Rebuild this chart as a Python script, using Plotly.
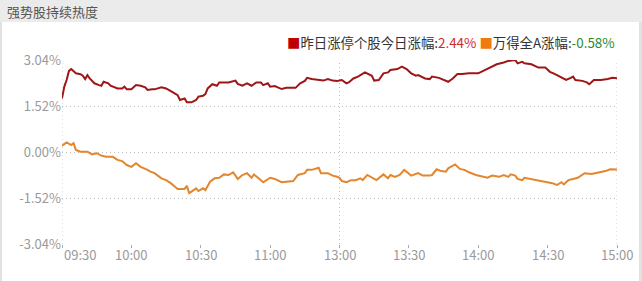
import plotly.graph_objects as go

# ---- data (trading minutes since 09:30, % change) ----
red_min = [0,1,2,3,4,6,8,9,10,11,12,14,16,17,18,20,21,24,26,27,28,30,32,34,36,37,39,40,43,45,48,50,51,53,54,56,58,59,61,62,63,65,67,68,72,75,76,78,80,82,84,86,87,89,90,92,95,97,101,103,105,106,108,111,113,115,117,119,121,123,124,126,128,131,134,135,137,139,141,142,145,147,149,151,153,154,157,159,160,163,165,167,169,171,173,176,180,182,184,186,188,191,193,196,197,199,200,203,206,209,211,213,216,218,220,221,222,225,227,228,230,233,236,238,240]
red_val = [1.77,2.16,2.38,2.68,2.74,2.60,2.57,2.52,2.41,2.54,2.43,2.27,2.21,2.19,2.32,2.27,2.19,2.10,2.10,2.16,2.07,2.07,2.21,2.19,2.14,2.05,2.07,2.07,2.14,2.10,1.97,1.88,1.72,1.77,1.64,1.64,1.72,1.83,1.86,1.91,2.10,2.24,2.19,2.30,2.30,2.36,2.25,2.19,2.27,2.19,2.30,2.30,2.21,2.27,2.16,2.18,2.08,2.12,2.12,2.27,2.35,2.45,2.41,2.38,2.36,2.41,2.36,2.35,2.38,2.27,2.30,2.43,2.49,2.63,2.52,2.36,2.38,2.60,2.63,2.71,2.74,2.82,2.74,2.60,2.52,2.54,2.43,2.41,2.49,2.45,2.38,2.32,2.43,2.58,2.58,2.60,2.60,2.68,2.74,2.82,2.90,2.96,3.01,3.04,2.93,2.98,2.93,2.90,2.79,2.79,2.65,2.58,2.45,2.38,2.45,2.49,2.38,2.35,2.30,2.24,2.38,2.38,2.41,2.45,2.44]

org_min = [0,2,4,5,6,8,11,13,15,17,19,22,24,26,28,30,32,34,37,38,40,43,45,47,50,53,54,55,56,58,59,61,62,64,66,68,70,72,74,76,78,80,82,83,85,87,90,92,95,98,100,102,105,106,108,111,112,115,117,119,120,121,123,125,127,129,130,132,134,136,139,141,142,144,146,148,149,151,154,156,159,160,162,164,166,167,170,172,174,176,179,182,184,186,189,191,193,194,196,197,199,200,203,205,208,210,212,214,216,217,219,221,223,226,229,232,235,237,240]
org_val = [0.21,0.32,0.23,0.29,0.07,0.01,0.01,-0.08,-0.04,-0.12,-0.16,-0.16,-0.26,-0.30,-0.43,-0.49,-0.37,-0.49,-0.59,-0.64,-0.70,-0.87,-0.93,-1.03,-1.22,-1.22,-1.12,-1.36,-1.31,-1.20,-1.29,-1.20,-1.26,-0.98,-0.87,-0.85,-0.74,-0.76,-0.67,-0.89,-0.76,-0.70,-0.85,-0.74,-0.87,-1.00,-0.85,-0.89,-1.00,-0.98,-0.96,-0.76,-0.70,-0.59,-0.59,-0.52,-0.70,-0.70,-0.78,-0.82,-0.85,-0.96,-1.00,-0.93,-0.93,-0.87,-0.93,-0.76,-0.85,-0.93,-0.74,-0.87,-0.76,-0.82,-0.76,-0.59,-0.65,-0.78,-0.70,-0.78,-0.78,-0.76,-0.57,-0.63,-0.65,-0.54,-0.41,-0.56,-0.59,-0.67,-0.76,-0.82,-0.85,-0.78,-0.82,-0.76,-0.82,-0.74,-0.78,-0.89,-0.93,-0.85,-0.89,-0.93,-0.96,-0.98,-1.03,-1.09,-1.00,-1.07,-0.93,-0.89,-0.85,-0.70,-0.73,-0.68,-0.63,-0.57,-0.58]

x_tick_pos = [0, 30, 60, 90, 120, 150, 180, 210, 240]
x_tick_labels = ['09:30', '10:00', '10:30', '11:00', '13:00', '13:30', '14:00', '14:30', '15:00']
y_tick_vals = [-3.04, -1.52, 0.0, 1.52, 3.04]
y_tick_labels = ['-3.04%', '-1.52%', '0.00%', '1.52%', '3.04%']

title_text = '强势股持续热度'
red_name = '昨日涨停个股今日涨幅:'
red_last = '2.44%'
org_name = '万得全A涨幅:'
org_last = '-0.58%'

assert len(red_min) == len(red_val)
assert len(org_min) == len(org_val)

# ---- layout geometry ----
W, H = 642, 281
L, R, T, B = 62, 25, 60, 37
PW, PH = W - L - R, H - T - B
def px(x):
    return (x - L) / PW
def py(y):
    return (H - B - y) / PH

FONT = 'Noto Sans CJK SC, Noto Sans, sans-serif'
RED_LINE = '#9e1616'
ORG_LINE = '#e3862c'
GRID = '#bdbdbd'
DOT = '1px,3px'

fig = go.Figure()
fig.add_trace(go.Scatter(x=red_min, y=red_val, mode='lines',
                         line=dict(color=RED_LINE, width=2), hoverinfo='skip'))
fig.add_trace(go.Scatter(x=org_min, y=org_val, mode='lines',
                         line=dict(color=ORG_LINE, width=2), hoverinfo='skip'))

shapes = [
    # title bar
    dict(type='rect', xref='paper', yref='paper', x0=px(0), x1=px(W), y0=py(22), y1=py(0),
         fillcolor='#ebebeb', line=dict(width=0), layer='below'),
    # side borders
    dict(type='rect', xref='paper', yref='paper', x0=px(0), x1=px(2), y0=py(H), y1=py(22),
         fillcolor='#e2e2e2', line=dict(width=0), layer='below'),
    dict(type='rect', xref='paper', yref='paper', x0=px(639), x1=px(W), y0=py(H), y1=py(22),
         fillcolor='#e2e2e2', line=dict(width=0), layer='below'),
]
for xv in [x_tick_pos[0], 120, x_tick_pos[-1]]:
    shapes.append(dict(type='line', xref='x', yref='y', x0=xv, x1=xv,
                       y0=y_tick_vals[0], y1=y_tick_vals[-1],
                       line=dict(color=GRID, width=1, dash=DOT), layer='below'))

annotations = [
    dict(text=title_text, xref='paper', yref='paper', x=px(5), y=py(12),
         xanchor='left', yanchor='middle', showarrow=False,
         font=dict(family=FONT, size=13, color='#555555')),
    dict(text=(f'<span style="color:#c00000">■</span>{red_name}'
               f'<span style="color:#d02c2c">{red_last}</span> '
               f'<span style="color:#f07a10">■</span>{org_name}'
               f'<span style="color:#2e8b2e">{org_last}</span>'),
         xref='paper', yref='paper', x=px(617), y=py(42),
         xanchor='right', yanchor='middle', showarrow=False,
         font=dict(family=FONT, size=13.4, color='#333333')),
]
for i, (pos, lab) in enumerate(zip(x_tick_pos, x_tick_labels)):
    annotations.append(dict(text=lab, xref='x', yref='paper', x=pos, y=py(254),
                            xanchor='left' if i == 0 else 'center', yanchor='middle',
                            showarrow=False,
                            font=dict(family=FONT, size=13, color='#9a9a9a')))

fig.update_layout(
    width=W, height=H,
    margin=dict(l=L, r=R, t=T, b=B, pad=0),
    paper_bgcolor='white', plot_bgcolor='white',
    showlegend=False,
    shapes=shapes, annotations=annotations,
    xaxis=dict(range=[0, 240], tickvals=x_tick_pos, showticklabels=False,
               ticks='outside', ticklen=3, tickcolor='#aaaaaa', tickwidth=1,
               showgrid=False, zeroline=False, showline=False, fixedrange=True),
    yaxis=dict(range=[-3.04, 3.04], tickvals=y_tick_vals, ticktext=y_tick_labels,
               showgrid=True, gridcolor=GRID, griddash=DOT, gridwidth=1,
               zeroline=False, showline=False, ticks='',
               tickfont=dict(family=FONT, size=13, color='#9a9a9a'), fixedrange=True),
)

fig.write_html('out.html')
